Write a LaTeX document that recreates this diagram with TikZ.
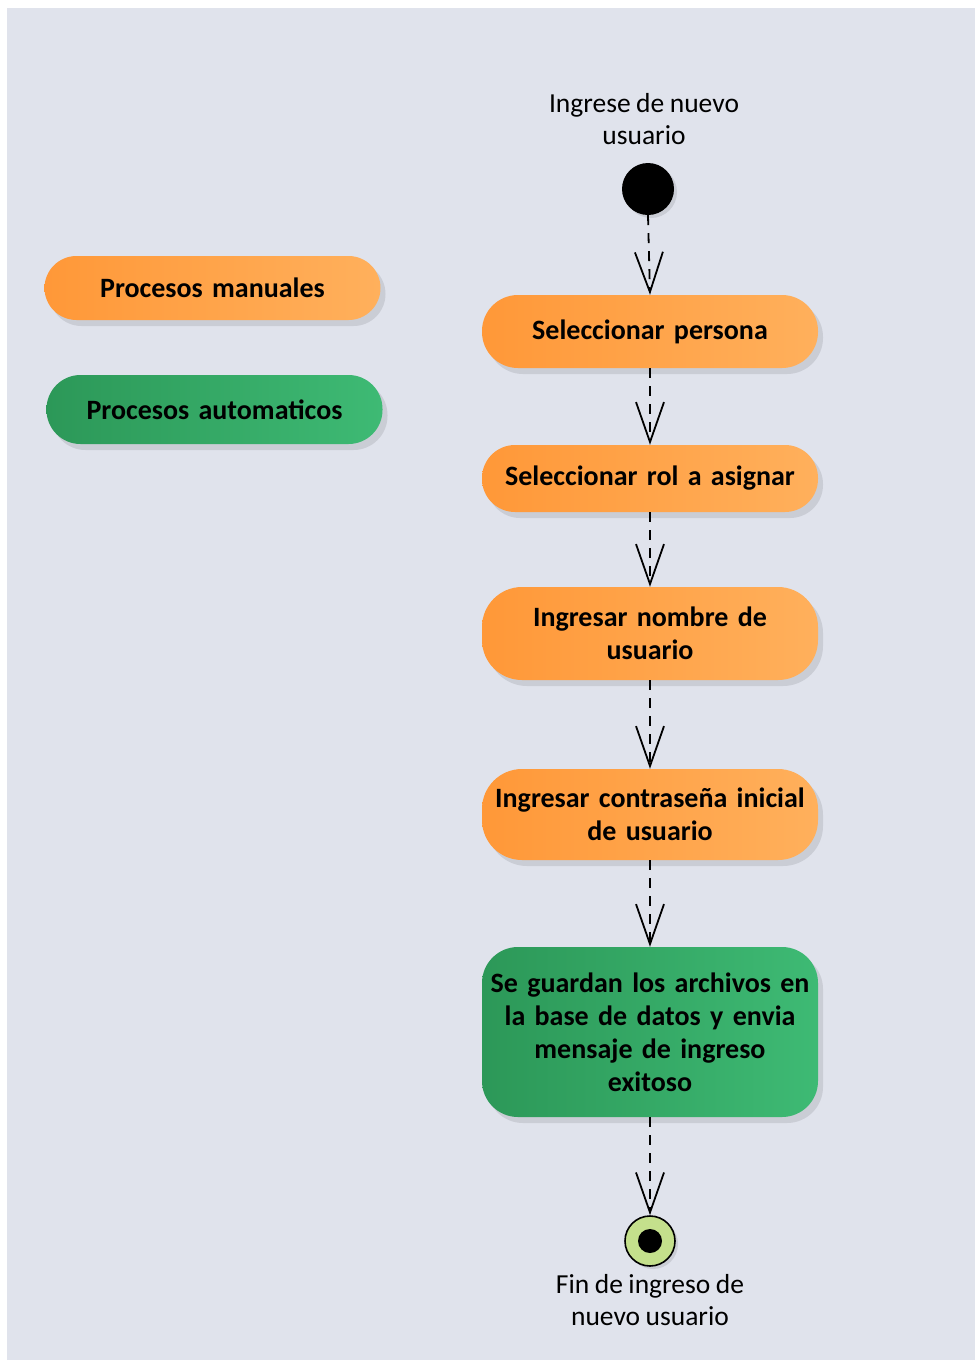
\documentclass[tikz,border=0pt]{standalone}
\usepackage{fontspec}
\setmainfont{Carlito}
\usetikzlibrary{arrows.meta,shadows,shapes.misc}

\definecolor{canvas}{RGB}{224,227,236}
\definecolor{orangeL}{RGB}{255,152,56}
\definecolor{orangeR}{RGB}{255,176,92}
\definecolor{greenL}{RGB}{44,152,88}
\definecolor{greenR}{RGB}{62,186,116}
\definecolor{endfill}{RGB}{196,224,140}
\definecolor{shade}{RGB}{170,172,180}

\newcommand{\boxfont}{\fontsize{28}{33}\selectfont\bfseries\spaceskip=0.19em\relax}
\newcommand{\capfont}{\fontsize{27.5}{32}\selectfont\spaceskip=0.2em\relax}

\tikzset{
  act/.style={rectangle, minimum width=336pt, text width=334pt, align=center,
    font=\boxfont, inner sep=0pt,
    drop shadow={shadow xshift=5pt, shadow yshift=-6pt, fill=shade, opacity=0.4}},
  manual/.style={act, left color=orangeL, right color=orangeR},
  auto/.style={act, left color=greenL, right color=greenR},
  flow/.style={line width=1.8pt, dash pattern=on 10pt off 8pt,
    -{Straight Barb[length=40pt,width=28pt,line width=1.8pt]}},
  caption/.style={align=center, font=\capfont}
}

\begin{document}
\begin{tikzpicture}[x=1pt,y=-1pt]
  \useasboundingbox (0,0) rectangle (975,1360);
  \fill[white] (0,0) rectangle (975,1360);
  \fill[canvas] (7,8) rectangle (975,1360);

  % legend
  \node[manual, minimum height=64pt, rounded corners=32pt] (lm) at (212.5,288) {Procesos manuales};
  \node[auto, minimum height=69pt, rounded corners=34pt] (la) at (214.5,409.5) {Procesos automaticos};

  % start
  \node[caption] (starttxt) at (644,119) {Ingrese de nuevo\\usuario};
  \node[circle, fill=black, minimum size=52pt, inner sep=0pt,
    drop shadow={shadow xshift=3pt, shadow yshift=-3pt, fill=shade, opacity=0.4}] (start) at (648,189) {};

  % activities
  \node[manual, minimum height=73pt, rounded corners=36pt] (b1) at (650,331.5) {Seleccionar persona};
  \node[manual, minimum height=67pt, rounded corners=33pt] (b2) at (650,478.5) {Seleccionar rol a asignar};
  \node[manual, minimum height=93pt, rounded corners=40pt] (b3) at (650,633.5) {Ingresar nombre de\\usuario};
  \node[manual, minimum height=91pt, rounded corners=40pt] (b4) at (650,814.5) {Ingresar contraseña inicial\\de usuario};
  \node[auto, minimum height=170pt, rounded corners=36pt] (b5) at (650,1032) {Se guardan los archivos en\\la base de datos y envia\\mensaje de ingreso\\exitoso};

  % end
  \node[circle, draw=black, line width=1.6pt, fill=endfill, minimum size=50pt, inner sep=0pt,
    drop shadow={shadow xshift=3pt, shadow yshift=-3pt, fill=shade, opacity=0.4}] (end) at (650,1241) {};
  \node[circle, fill=black, minimum size=24pt, inner sep=0pt] (endcore) at (end.center) {};
  \node[caption] (endtxt) at (650,1300) {Fin de ingreso de\\nuevo usuario};

  % control flow
  \draw[flow] (start.south) -- (b1.north);
  \draw[flow] (b1.south) -- (b2.north);
  \draw[flow] (b2.south) -- (b3.north);
  \draw[flow] (b3.south) -- (b4.north);
  \draw[flow] (b4.south) -- (b5.north);
  \draw[flow] (b5.south) -- (end.north);
\end{tikzpicture}
\end{document}
